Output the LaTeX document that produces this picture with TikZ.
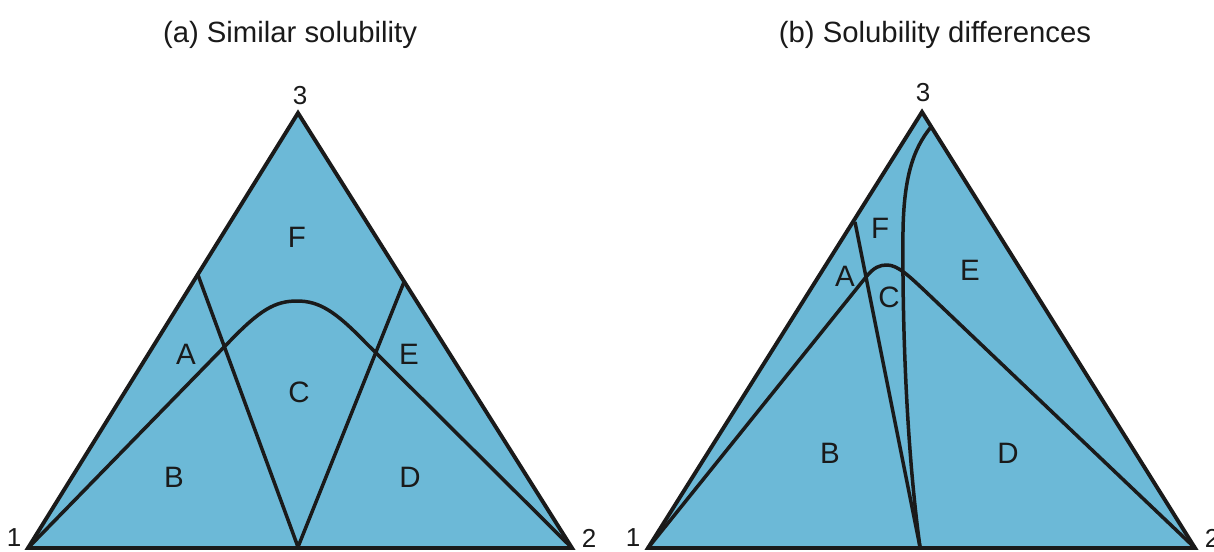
\documentclass[tikz,border=0pt]{standalone}
\usepackage{fontspec}
\setmainfont{Liberation Sans}
\definecolor{phasefill}{RGB}{108,185,215}
\definecolor{inkline}{RGB}{26,26,26}
\tikzset{
  tri/.style={fill=phasefill, draw=inkline, line width=3.9pt, line join=miter},
  bound/.style={draw=inkline, line width=3.5pt, line join=round},
  lbl/.style={inner sep=0pt, text=inkline, font=\fontsize{29.5}{34}\selectfont},
  num/.style={inner sep=0pt, text=inkline, font=\fontsize{26}{30}\selectfont},
  ttl/.style={inner sep=0pt, anchor=base, text=inkline, font=\fontsize{29.3}{34}\selectfont}
}
\begin{document}
\begin{tikzpicture}[x=1pt,y=-1pt]
\useasboundingbox (0,0) rectangle (1214,551);
% ---------- titles
\node[ttl] (ta) at (290,43) {(a) Similar solubility};
\node[ttl] (tb) at (935,43) {(b) Solubility differences};
% ---------- (a)
\coordinate (a1) at (28,548);
\coordinate (a2) at (572,548);
\coordinate (a3) at (298,113);
\coordinate (aL) at (198,275);
\coordinate (aR) at (404,282);
\coordinate (aM) at (298,547);
\fill[phasefill] (a1) -- (a2) -- (a3) -- cycle;
\draw[bound] (aL) -- (aM);
\draw[bound] (aR) -- (aM);
\draw[bound] (a1) -- (230,341) .. controls (260,310) and (275,301) .. (297,301)
   .. controls (319,301) and (335,311) .. (365,342) -- (a2);
\draw[tri, fill=none] (a1) -- (a2) -- (a3) -- cycle;
\node[lbl] (aF) at (297,237) {F};
\node[lbl] (aA) at (186,354) {A};
\node[lbl] (aC) at (299,392) {C};
\node[lbl] (aE) at (409,354) {E};
\node[lbl] (aB) at (174,477) {B};
\node[lbl] (aD) at (410,477) {D};
\node[num] (n1a) at (14,538) {1};
\node[num] (n2a) at (589,538) {2};
\node[num] (n3a) at (300,96) {3};
% ---------- (b)
\coordinate (b1) at (648,548);
\coordinate (b2) at (1195,548);
\coordinate (b3) at (922,112);
\coordinate (bL) at (855,222);
\coordinate (bM) at (920,547);
\coordinate (bT) at (931,127);
\fill[phasefill] (b1) -- (b2) -- (b3) -- cycle;
\draw[bound] (bL) -- (bM);
\draw[bound] (bT) .. controls (912,150) and (904,180) .. (903,230)
   .. controls (902,340) and (908,460) .. (bM);
\draw[bound] (b1) -- (866,277) .. controls (874,267) and (880,265) .. (887,265)
   .. controls (898,265) and (910,277) .. (925,291) -- (b2);
\draw[tri, fill=none] (b1) -- (b2) -- (b3) -- cycle;
\node[lbl] (bF) at (880,228) {F};
\node[lbl] (bA) at (845,276) {A};
\node[lbl] (bC) at (889,297) {C};
\node[lbl] (bE) at (970,270) {E};
\node[lbl] (bB) at (830,453) {B};
\node[lbl] (bD) at (1008,453) {D};
\node[num] (n1b) at (633,538) {1};
\node[num] (n2b) at (1212,538) {2};
\node[num] (n3b) at (923,93) {3};
\end{tikzpicture}
\end{document}
